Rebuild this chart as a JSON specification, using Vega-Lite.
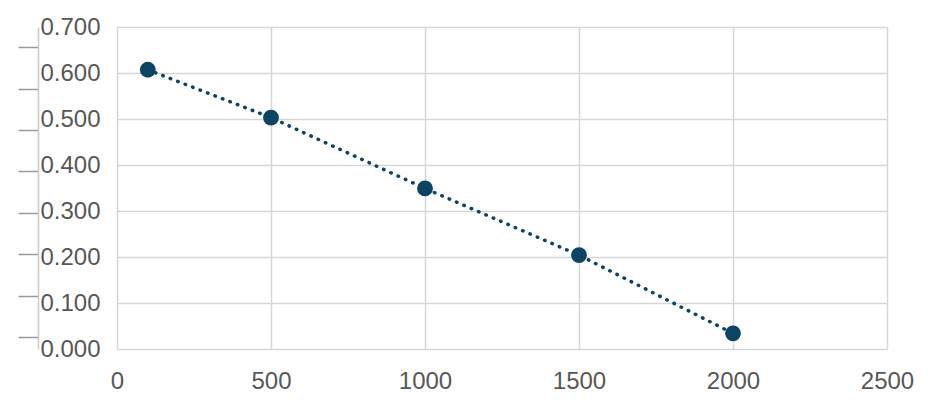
{
  "$schema": "https://vega.github.io/schema/vega-lite/v6.json",
  "width": 770,
  "height": 322,
  "autosize": "none",
  "padding": {"left": 117, "top": 27, "right": 50, "bottom": 59},
  "background": "white",
  "config": {
    "view": {"stroke": null},
    "axis": {"labelFont": "Liberation Sans", "labelFontSize": 24, "labelColor": "#575757", "gridColor": "#d6d6d6", "gridWidth": 1.5, "labelFlush": false, "labelOverlap": false}
  },
  "data": {"values": [
    {"x": 100, "y": 0.607},
    {"x": 500, "y": 0.503},
    {"x": 1000, "y": 0.349},
    {"x": 1500, "y": 0.204},
    {"x": 2000, "y": 0.034}
  ]},
  "layer": [
    {
      "layer": [
        {
          "mark": {"type": "line", "color": "#0d4463", "strokeWidth": 3.5, "strokeDash": [0.5, 7.5], "strokeCap": "round"},
          "encoding": {
            "x": {"field": "x", "type": "quantitative", "scale": {"domain": [0, 2500], "nice": false, "zero": false},
              "axis": {"values": [0, 500, 1000, 1500, 2000, 2500], "format": "d", "title": null, "domain": false, "ticks": false, "labelPadding": 32, "labelBaseline": "middle", "grid": true}},
            "y": {"field": "y", "type": "quantitative", "scale": {"domain": [0, 0.7], "nice": false},
              "axis": {"values": [0, 0.1, 0.2, 0.3, 0.4, 0.5, 0.6, 0.7], "format": ".3f", "title": null, "domain": false, "ticks": false, "labelPadding": 17, "grid": true}}
          }
        },
        {
          "mark": {"type": "point", "filled": true, "opacity": 1, "color": "#0d4463", "size": 250},
          "encoding": {
            "x": {"field": "x", "type": "quantitative"},
            "y": {"field": "y", "type": "quantitative"}
          }
        }
      ]
    },
    {
      "mark": {"type": "point", "opacity": 0},
      "encoding": {
        "x": {"field": "x", "type": "quantitative"},
        "y": {"field": "y", "type": "quantitative", "scale": {"domain": [-0.29, 7.49], "nice": false, "zero": false},
          "axis": {"orient": "left", "offset": 79, "values": [0, 1, 2, 3, 4, 5, 6, 7], "labels": false, "title": null, "grid": false,
            "domainColor": "#c8c8c8", "domainWidth": 1.5, "tickColor": "#9a9a9a", "tickSize": 20, "tickWidth": 1.5}}
      }
    }
  ],
  "resolve": {"scale": {"y": "independent"}, "axis": {"y": "independent"}}
}
